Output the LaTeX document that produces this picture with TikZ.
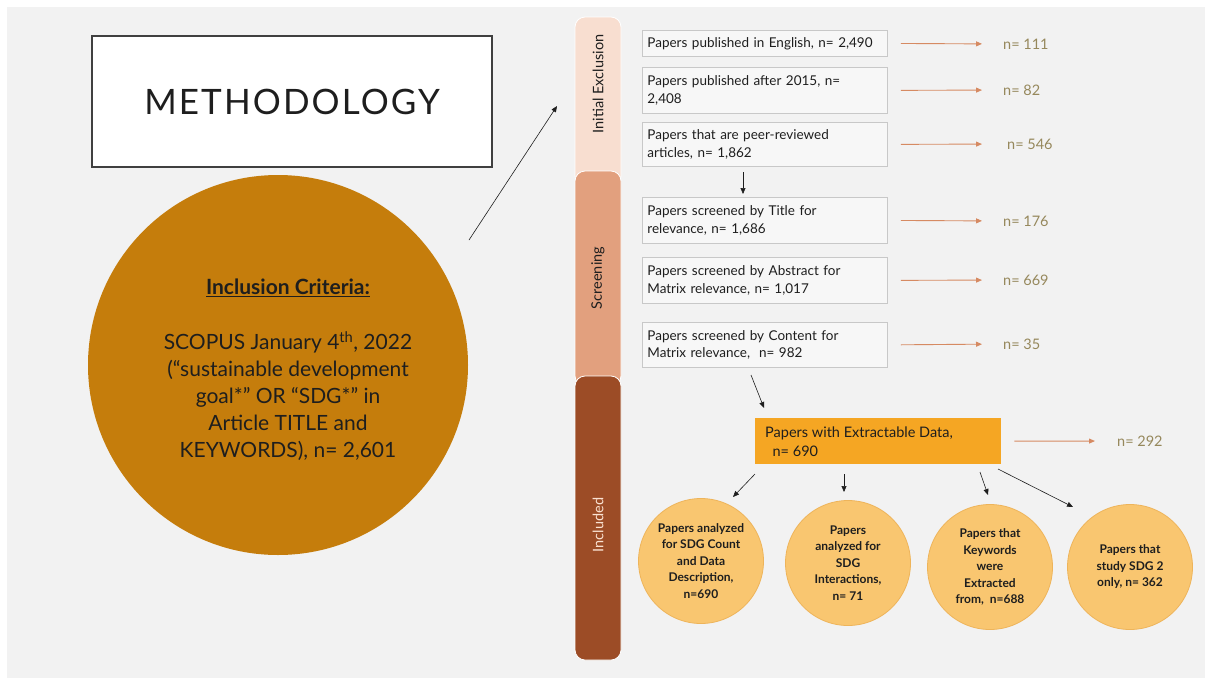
\documentclass[tikz,border=0pt]{standalone}
\usepackage{fontspec}
\setmainfont{Lato}
\usetikzlibrary{arrows.meta}

\definecolor{slide}{RGB}{242,242,242}
\definecolor{frame}{RGB}{64,64,64}
\definecolor{critfill}{RGB}{197,125,12}
\definecolor{phaseA}{RGB}{248,222,208}
\definecolor{phaseB}{RGB}{226,160,126}
\definecolor{phaseC}{RGB}{156,76,38}
\definecolor{phaseCtext}{RGB}{250,226,210}
\definecolor{boxline}{RGB}{200,200,200}
\definecolor{boxfill}{RGB}{247,247,247}
\definecolor{exarrow}{RGB}{214,138,98}
\definecolor{exlabel}{RGB}{150,136,92}
\definecolor{keyfill}{RGB}{245,166,35}
\definecolor{subfill}{RGB}{249,198,112}
\definecolor{subline}{RGB}{238,180,90}
\definecolor{ink}{RGB}{30,30,30}

\tikzset{
  x=1pt, y=-1pt,
  stepbox/.style={draw=boxline, line width=0.8pt, fill=boxfill, anchor=north west,
    text width=235pt, inner xsep=5pt, inner ysep=0pt, align=left,
    font=\fontsize{13.5}{17.5}\selectfont, text=ink},
  phase/.style={rounded corners=10pt, draw=white, line width=0.8pt},
  phasetext/.style={rotate=90, font=\fontsize{14.5}{16}\selectfont},
  exarr/.style={draw=exarrow, line width=0.9pt, -{Triangle[length=6pt,width=5pt]}},
  exlab/.style={anchor=west, inner sep=0pt, text=exlabel, font=\fontsize{14.5}{16}\selectfont},
  flow/.style={draw=ink, line width=0.6pt, -{Triangle[length=6pt,width=5pt]}},
  subcirc/.style={circle, draw=subline, line width=0.8pt, fill=subfill, minimum size=125pt,
    inner sep=0pt, align=center, text=ink, font=\bfseries\fontsize{12}{16.5}\selectfont}
}

\begin{document}
\begin{tikzpicture}
\useasboundingbox (0,0) rectangle (1205,678);
\fill[white] (0,0) rectangle (1205,678);
\fill[slide] (7,7) rectangle (1205,678);

% title panel
\node[draw=frame, line width=2pt, fill=white, minimum width=400pt, minimum height=131pt,
      font=\fontsize{35}{40}\selectfont, text=ink] (title) at (292,101.5)
      {\addfontfeature{LetterSpace=6}METHODOLOGY};

% search criteria
\node[circle, fill=critfill, minimum size=380pt, inner sep=0pt] (incl) at (278,365) {};
\node[align=center, font=\fontsize{21}{27}\selectfont, text=ink] (incltext) at (288,370)
  {\textbf{\underline{Inclusion Criteria:}}\\[28pt]
   SCOPUS January 4\textsuperscript{th}, 2022\\
   (“sustainable development\\
   goal*” OR “SDG*” in\\
   Article TITLE and\\
   KEYWORDS), n= 2,601};

\coordinate (a0) at (469,240);
\coordinate (a1) at (557,106);
\draw[flow] (a0) -- (a1);

% phase bar
\draw[phase, fill=phaseA] (575,17) rectangle (621,186);
\draw[phase, fill=phaseB] (575,171) rectangle (621,386);
\draw[phase, fill=phaseC] (575,376) rectangle (621,660);
\node[phasetext, text=ink] (pie) at (598,84) {Initial Exclusion};
\node[phasetext, text=ink] (pscr) at (598,278) {Screening};
\node[phasetext, text=phaseCtext] (pinc) at (598,525) {Included};

% screening steps
\node[stepbox, minimum height=26pt] (b1) at (642,30) {Papers published in English, n= 2,490};
\node[stepbox, minimum height=46pt] (b2) at (642,67) {Papers published after 2015, n=\\2,408};
\node[stepbox, minimum height=44pt] (b3) at (642,122) {Papers that are peer-reviewed\\articles, n= 1,862};
\node[stepbox, minimum height=46pt] (b4) at (642,197) {Papers screened by Title for\\relevance, n= 1,686};
\node[stepbox, minimum height=46pt] (b5) at (642,257) {Papers screened by Abstract for\\Matrix relevance, n= 1,017};
\node[stepbox, minimum height=45pt] (b6) at (642,322) {Papers screened by Content for\\Matrix relevance,\ \ n= 982};

% excluded counts
\node[exlab] (l1) at (1003,44) {n= 111};
\node[exlab] (l2) at (1003,90) {n= 82};
\node[exlab] (l3) at (1007,144) {n= 546};
\node[exlab] (l4) at (1003,221) {n= 176};
\node[exlab] (l5) at (1003,280) {n= 669};
\node[exlab] (l6) at (1003,344) {n= 35};

\draw[exarr, shorten <=13pt, shorten >=21pt] (b1.east) -- (l1.west);
\draw[exarr, shorten <=13pt, shorten >=21pt] (b2.east) -- (l2.west);
\draw[exarr, shorten <=13pt, shorten >=25pt] (b3.east) -- (l3.west);
\draw[exarr, shorten <=13pt, shorten >=21pt] (b4.east) -- (l4.west);
\draw[exarr, shorten <=13pt, shorten >=21pt] (b5.east) -- (l5.west);
\draw[exarr, shorten <=13pt, shorten >=21pt] (b6.east) -- (l6.west);

\coordinate (d0) at (743,172);
\coordinate (d1) at (743,194);
\draw[flow] (d0) -- (d1);

% included set
\node[fill=keyfill, anchor=north west, minimum width=246pt, minimum height=46pt,
      inner sep=0pt] (ext) at (755,418) {};
\node[anchor=west, align=left, inner sep=0pt, text=ink,
      font=\fontsize{14.5}{19}\selectfont] (exttext) at (765,441.5)
      {Papers with Extractable Data,\\\ \ n= 690};
\node[exlab] (l7) at (1117,441) {n= 292};
\draw[exarr, shorten <=13pt, shorten >=22pt] (ext.east) -- (l7.west);

\coordinate (e0) at (751,375);
\coordinate (e1) at (764,408);
\draw[flow] (e0) -- (e1);

\node[subcirc] (c1) at (701,561) {Papers analyzed\\for SDG Count\\and Data\\Description,\\n=690};
\node[subcirc] (c2) at (848,563) {Papers\\analyzed for\\SDG\\Interactions,\\n= 71};
\node[subcirc] (c3) at (990,567) {Papers that\\Keywords\\were\\Extracted\\from,\ \ n=688};
\node[subcirc] (c4) at (1130,567) {Papers that\\study SDG 2\\only, n= 362};

\coordinate (f1s) at (755,474); \coordinate (f1e) at (733,497);
\coordinate (f2s) at (844,474); \coordinate (f2e) at (844,492);
\coordinate (f3s) at (980,472); \coordinate (f3e) at (988,495);
\coordinate (f4s) at (998,469); \coordinate (f4e) at (1073,507);
\draw[flow] (f1s) -- (f1e);
\draw[flow] (f2s) -- (f2e);
\draw[flow] (f3s) -- (f3e);
\draw[flow] (f4s) -- (f4e);
\end{tikzpicture}
\end{document}
